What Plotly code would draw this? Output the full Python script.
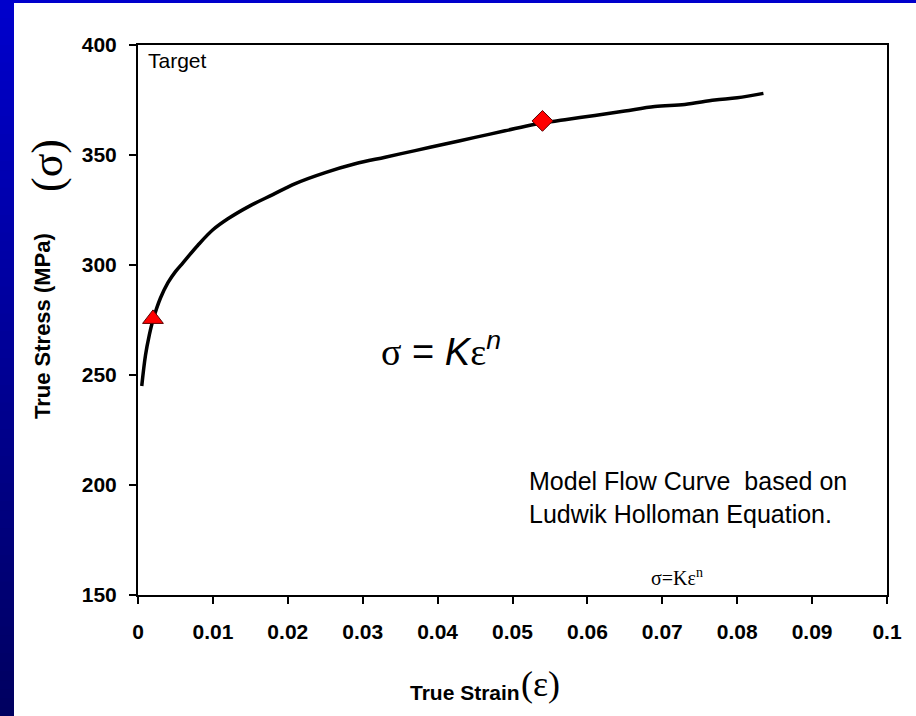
import plotly.graph_objects as go

# Flow curve read as (true strain, true stress in MPa)
strain = [0.0005, 0.001, 0.0015, 0.002, 0.003, 0.004, 0.005, 0.006, 0.008, 0.010,
          0.012, 0.015, 0.018, 0.021, 0.025, 0.029, 0.033, 0.037, 0.041, 0.045,
          0.049, 0.053, 0.057, 0.061, 0.065, 0.069, 0.073, 0.077, 0.080, 0.0835]
stress = [245, 259, 268, 275, 285, 292, 297, 301, 309, 316,
          321, 327, 332, 337, 342, 346, 349, 352, 355, 358,
          361, 364, 366, 368, 370, 372, 373, 375, 376, 378]

# Highlighted points on the curve
tri_strain, tri_stress = [0.002], [275.5]
dia_strain, dia_stress = [0.054], [365.5]

x_ticks = [0, 0.01, 0.02, 0.03, 0.04, 0.05, 0.06, 0.07, 0.08, 0.09, 0.1]
x_tick_text = ["0", "0.01", "0.02", "0.03", "0.04", "0.05", "0.06", "0.07", "0.08", "0.09", "0.1"]
y_ticks = [150, 200, 250, 300, 350, 400]

fig = go.Figure()
fig.add_trace(go.Scatter(x=strain, y=stress, mode="lines",
                         line=dict(color="black", width=3.5, shape="spline"),
                         showlegend=False, hoverinfo="skip"))
fig.add_trace(go.Scatter(x=tri_strain, y=tri_stress, mode="markers",
                         marker=dict(symbol="triangle-up", size=18, color="#ff0000",
                                     line=dict(color="#5a0000", width=1)),
                         showlegend=False))
fig.add_trace(go.Scatter(x=dia_strain, y=dia_stress, mode="markers",
                         marker=dict(symbol="diamond", size=16, color="#ff0000",
                                     line=dict(color="#5a0000", width=1)),
                         showlegend=False))

arial = "Arial, Liberation Sans, sans-serif"
serif = "Liberation Serif, Times New Roman, serif"
tick_font = dict(family=arial, size=21, color="black", weight="bold")

fig.update_xaxes(range=[0, 0.1], tickvals=x_ticks, ticktext=x_tick_text,
                 showgrid=False, zeroline=False, showline=True, linecolor="black",
                 linewidth=2, mirror=True, ticks="outside", ticklen=7, tickwidth=2,
                 tickcolor="black", tickfont=tick_font, ticklabelstandoff=10)
fig.update_yaxes(range=[150, 400], tickvals=y_ticks,
                 showgrid=False, zeroline=False, showline=True, linecolor="black",
                 linewidth=2, mirror=True, ticks="outside", ticklen=7, tickwidth=2,
                 tickcolor="black", tickfont=tick_font, ticklabelstandoff=8)

# Page geometry in pixels, used to place the frame and titles
W, H = 916, 716
L, R, T, B = 138, 29, 45, 121
pw, ph = W - L - R, H - T - B


def px_x(x):
    return (x - L) / pw


def px_y(y):
    return (H - B - y) / ph


# Blue slide frame: a gradient band on the left and a thin bar on top
shapes = []
n_bands = 80
top_rgb = (0, 0, 204)
bot_rgb = (0, 0, 96)
band_h = H / n_bands
for i in range(n_bands):
    t = i / (n_bands - 1)
    r = round(top_rgb[0] + (bot_rgb[0] - top_rgb[0]) * t)
    g = round(top_rgb[1] + (bot_rgb[1] - top_rgb[1]) * t)
    b = round(top_rgb[2] + (bot_rgb[2] - top_rgb[2]) * t)
    y_top = i * band_h
    y_bot = (i + 1) * band_h + 1.5
    shapes.append(dict(type="rect", xref="paper", yref="paper", layer="below",
                       x0=px_x(0), x1=px_x(14), y0=px_y(y_bot), y1=px_y(y_top),
                       fillcolor=f"rgb({r},{g},{b})", line=dict(width=0)))
shapes.append(dict(type="rect", xref="paper", yref="paper", layer="below",
                   x0=px_x(0), x1=px_x(W), y0=px_y(3), y1=px_y(0),
                   fillcolor="rgb(0,0,204)", line=dict(width=0)))


def page_text(text, x, y, size, family=arial, angle=0, xanchor="center", align="center"):
    return dict(text=text, x=px_x(x), y=px_y(y), xref="paper", yref="paper",
                xanchor=xanchor, yanchor="middle", showarrow=False, textangle=angle,
                align=align, font=dict(family=family, size=size, color="black"))


annotations = [
    page_text("Target", 146, 61, 21, xanchor="left"),
    dict(text=f"<span style='font-family:{serif}'>σ</span> = <i>K</i>"
              f"<span style='font-family:{serif}'>ε</span><sup><i>n</i></sup>",
         x=0.0405, y=262, xref="x", yref="y",
         xanchor="center", yanchor="middle", showarrow=False,
         font=dict(family=arial, size=38, color="black")),
    page_text("Model Flow Curve  based on<br>Ludwik Holloman Equation.", 527, 497, 25,
              xanchor="left", align="left"),
    page_text("σ=Kε<sup>n</sup>", 677, 577, 20, family=serif),
    page_text("<b>True Strain</b>", 465, 692, 21),
    page_text("(ε)", 540, 684, 36, family=serif),
    page_text("<b>True Stress (MPa)</b>", 42, 326, 22, angle=-90),
    page_text("(σ)", 47, 166, 44, family=serif, angle=-90),
]

fig.update_layout(width=W, height=H,
                  margin=dict(l=L, r=R, t=T, b=B),
                  paper_bgcolor="white", plot_bgcolor="white",
                  shapes=shapes, annotations=annotations, showlegend=False)

fig.write_html("out.html")
